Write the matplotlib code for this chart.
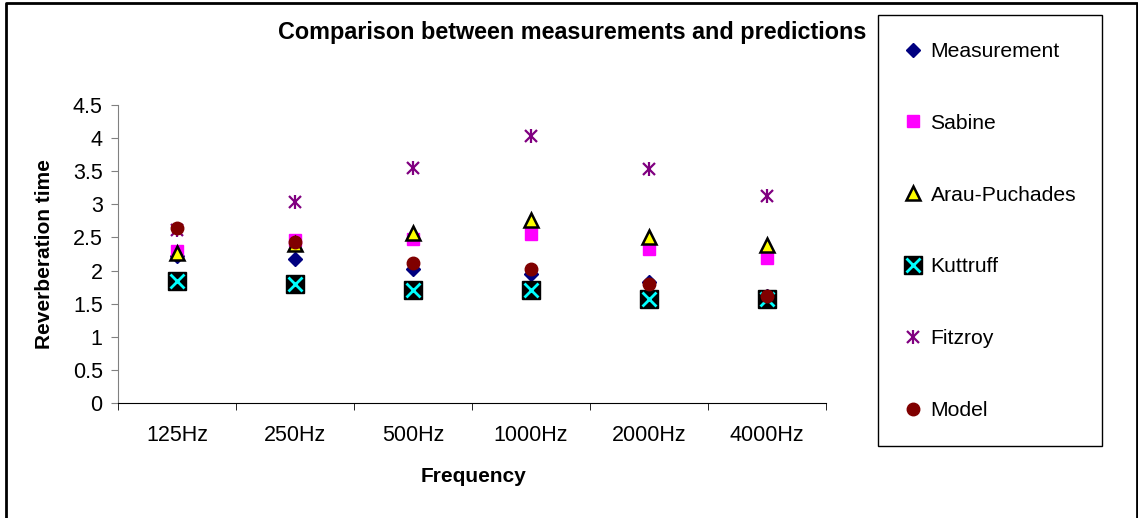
import matplotlib.pyplot as plt
from matplotlib.lines import Line2D
from matplotlib.patches import Rectangle
from matplotlib.legend_handler import HandlerTuple
from matplotlib.ticker import FuncFormatter, FixedLocator

plt.rcParams['font.family'] = ['Liberation Sans', 'DejaVu Sans']

# values
frequencies = ["125Hz", "250Hz", "500Hz", "1000Hz", "2000Hz", "4000Hz"]
measurement = [2.22, 2.17, 2.03, 1.95, 1.82, 1.62]
sabine = [2.30, 2.46, 2.48, 2.55, 2.33, 2.19]
arau_puchades = [2.27, 2.40, 2.56, 2.77, 2.50, 2.38]
kuttruff = [1.84, 1.79, 1.70, 1.70, 1.57, 1.57]
fitzroy = [2.61, 3.04, 3.55, 4.03, 3.53, 3.13]
model = [2.64, 2.43, 2.12, 2.03, 1.79, 1.61]

W, H = 1138, 518
fig = plt.figure(figsize=(W / 100, H / 100), dpi=100)

# plot area in pixels: x 118..826, y 105..403
ax = fig.add_axes([118 / W, 1 - 403 / H, (826 - 118) / W, (403 - 105) / H])
x = list(range(len(frequencies)))

h_meas, = ax.plot(x, measurement, ls='none', marker='D', ms=7, color='#000080',
                  mec='#000080')
h_sab, = ax.plot(x, sabine, ls='none', marker='s', ms=8.5, color='#ff00ff',
                 mec='#ff00ff')
h_arau, = ax.plot(x, arau_puchades, ls='none', marker='^', ms=9.5, mfc='#ffff00',
                  mec='black', mew=1.8)
# Kuttruff: black square with a cyan cross on top
h_kut_sq, = ax.plot(x, kuttruff, ls='none', marker='s', ms=13, color='black')
h_kut_x, = ax.plot(x, kuttruff, ls='none', marker='x', ms=9.5, mec='#00ffff', mew=2)
# Fitzroy: excel-style star = x plus vertical bar
h_fitz_x, = ax.plot(x, fitzroy, ls='none', marker='x', ms=9, mec='#800080', mew=1.6)
h_fitz_v, = ax.plot(x, fitzroy, ls='none', marker='|', ms=9.5, mec='#800080', mew=1.6)
h_model, = ax.plot(x, model, ls='none', marker='o', ms=9, color='#800000',
                   mec='#800000')

ax.set_xlim(-0.5, len(frequencies) - 0.5)
ax.set_ylim(0, 4.5)
ax.set_yticks([i * 0.5 for i in range(10)])
ax.yaxis.set_major_formatter(FuncFormatter(lambda v, p: '%g' % v))
ax.set_xticks(x)
ax.set_xticklabels(frequencies)
ax.xaxis.set_minor_locator(FixedLocator([i - 0.5 for i in range(len(frequencies) + 1)]))
ax.tick_params(axis='x', which='major', length=0, pad=16, labelsize=15.5)
ax.tick_params(axis='x', which='minor', length=5, direction='out', color='black')
ax.tick_params(axis='y', length=5, direction='out', color='#808080', labelsize=15.5, pad=6)

for s in ['top', 'right']:
    ax.spines[s].set_visible(False)
ax.spines['left'].set_color('#808080')
ax.spines['bottom'].set_color('black')
ax.patch.set_alpha(0)

fig.text(572 / W, 1 - 32 / H, "Comparison between measurements and predictions",
         ha='center', va='center', fontsize=16.8, fontweight='bold')
fig.text(45 / W, 1 - 254 / H, "Reverberation time", rotation=90,
         ha='center', va='center', fontsize=15, fontweight='bold')
fig.text(473 / W, 1 - 477 / H, "Frequency", ha='center', va='center',
         fontsize=15, fontweight='bold')

# legend box
fig.patches.append(Rectangle((878 / W, 1 - 446 / H), (1102 - 878) / W, (446 - 15) / H,
                             transform=fig.transFigure, fill=False, ec='black', lw=1))
handles = [h_meas, h_sab, h_arau, (h_kut_sq, h_kut_x), (h_fitz_x, h_fitz_v), h_model]
labels = ['Measurement', 'Sabine', 'Arau-Puchades', 'Kuttruff', 'Fitzroy', 'Model']
fig.legend(handles, labels, loc='upper left', bbox_to_anchor=(902 / W, 1 - 42 / H),
           frameon=False, fontsize=15.2, handlelength=1.0, handletextpad=0.35,
           labelspacing=2.5, borderpad=0, borderaxespad=0,
           handler_map={tuple: HandlerTuple(ndivide=1)})

# outer chart border
fig.add_artist(Line2D([6 / W, 6 / W, 1137 / W, 1137 / W], [0, 1 - 3 / H, 1 - 3 / H, 0],
                      transform=fig.transFigure, color='black', lw=2))

fig.savefig('out.png', dpi=100)
